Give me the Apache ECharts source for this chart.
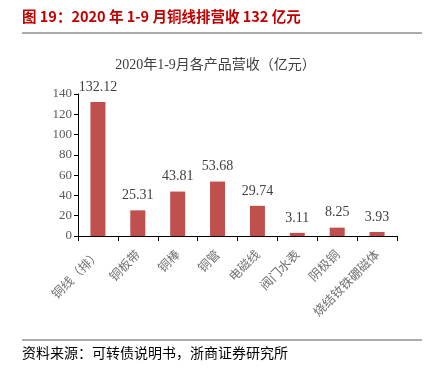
<!DOCTYPE html>
<html>
<head>
<meta charset="utf-8">
<script src="https://cdn.jsdelivr.net/npm/echarts@6/dist/echarts.min.js"></script>
<style>
  html, body { margin: 0; padding: 0; background: #fff; }
  #chart { width: 431px; height: 377px; }
</style>
</head>
<body>
<div id="chart"></div>
<script>
// 各产品营收（亿元）
var categories = ['铜线（排）', '铜板带', '铜棒', '铜管', '电磁线', '阀门水表', '阴极铜', '烧结钕铁硼磁体']
var revenue = [132.12, 25.31, 43.81, 53.68, 29.74, 3.11, 8.25, 3.93]
var yTicks = [0, 20, 40, 60, 80, 100, 120, 140]

var serif = '"Liberation Serif", "Noto Sans CJK SC", serif'
var chart = echarts.init(document.getElementById('chart'))
var option = {
  backgroundColor: '#fff',
  animation: false,
  title: {
    text: '2020年1-9月各产品营收（亿元）',
    left: 'center',
    top: 53,
    textStyle: { fontFamily: serif, fontSize: 14, fontWeight: 'normal', color: '#404040' }
  },
  graphic: [
    {
      type: 'text', left: 22, top: 9,
      style: { text: '图 19：2020 年 1-9 月铜线排营收 132 亿元', fill: '#c00000',
        font: 'bold 14.5px "Noto Sans CJK SC", sans-serif' }
    },
    { type: 'line', shape: { x1: 22, y1: 33, x2: 422, y2: 33 }, style: { stroke: '#595959', lineWidth: 1 } },
    { type: 'line', shape: { x1: 22, y1: 340, x2: 422, y2: 340 }, style: { stroke: '#595959', lineWidth: 1 } },
    {
      type: 'text', left: 22, top: 346,
      style: { text: '资料来源：可转债说明书，浙商证券研究所', fill: '#000',
        font: '14px "Noto Sans CJK SC", sans-serif' }
    }
  ],
  grid: { left: 78, right: 34, top: 94, bottom: 141 },
  xAxis: {
    type: 'category',
    data: categories,
    axisLine: { lineStyle: { color: '#000', width: 1 } },
    axisTick: { show: true, length: 5, lineStyle: { color: '#000' } },
    axisLabel: { rotate: 45, fontSize: 12.5, color: '#707070', margin: 16,
      fontFamily: '"Noto Sans CJK SC", sans-serif' }
  },
  yAxis: {
    type: 'value',
    min: yTicks[0],
    max: yTicks[yTicks.length - 1],
    interval: 20,
    splitLine: { show: false },
    axisLine: { show: true, lineStyle: { color: '#000', width: 1 } },
    axisTick: { show: true, length: 4, lineStyle: { color: '#000' } },
    axisLabel: { fontSize: 13, color: '#595959', fontFamily: serif, margin: 6 }
  },
  series: [
    {
      type: 'bar',
      data: revenue,
      barWidth: 15,
      itemStyle: { color: '#c0504d' },
      label: {
        show: true, position: 'top', distance: 8,
        fontSize: 14, color: '#404040', fontFamily: serif
      }
    }
  ]
}
chart.setOption(option)
</script>
</body>
</html>
